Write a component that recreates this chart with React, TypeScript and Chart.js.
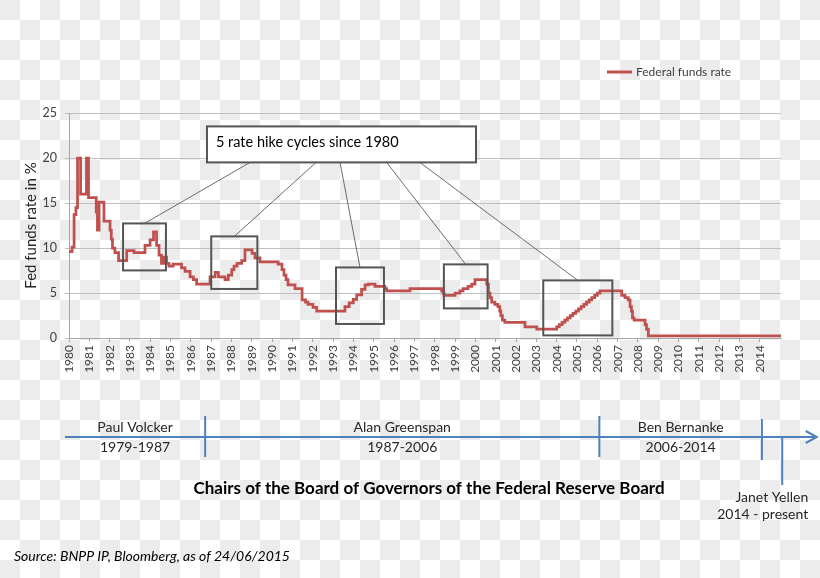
import React, { useEffect, useRef } from 'react';
import { Chart, registerables } from 'chart.js';

Chart.register(...registerables);

const FONT = 'Lato, "Open Sans", "DejaVu Sans", sans-serif';

// ---- data ----
const yearLabels = [
  '1980', '1981', '1982', '1983', '1984', '1985', '1986', '1987', '1988', '1989',
  '1990', '1991', '1992', '1993', '1994', '1995', '1996', '1997', '1998', '1999',
  '2000', '2001', '2002', '2003', '2004', '2005', '2006', '2007', '2008', '2009',
  '2010', '2011', '2012', '2013', '2014',
];
const yTickValues = [0, 5, 10, 15, 20, 25];

// change points of the rate (position on the year axis, rate in %)
const rateDates = [
  1980.0, 1980.15, 1980.25, 1980.34, 1980.42, 1980.57, 1980.86, 1980.96, 1981.34, 1981.4,
  1981.48, 1981.72, 1982.02, 1982.08, 1982.14, 1982.26, 1982.44, 1982.84, 1983.2, 1983.74,
  1983.99, 1984.16, 1984.31, 1984.43, 1984.55, 1984.68, 1984.8, 1984.92, 1985.12, 1985.54,
  1985.71, 1985.96, 1986.12, 1986.28, 1986.94, 1987.19, 1987.35, 1987.68, 1987.84, 1988.01,
  1988.12, 1988.27, 1988.5, 1988.66, 1989.01, 1989.15, 1989.4, 1990.29, 1990.48, 1990.58,
  1990.68, 1990.78, 1991.12, 1991.47, 1991.64, 1991.76, 1992.01, 1992.19, 1993.58, 1993.79,
  1993.99, 1994.16, 1994.4, 1994.57, 1994.73, 1995.06, 1995.55, 1995.63, 1996.78, 1998.34,
  1998.41, 1998.46, 1999.0, 1999.24, 1999.39, 1999.64, 1999.82, 1999.98, 2000.56, 2000.64,
  2000.72, 2000.8, 2000.96, 2001.11, 2001.2, 2001.25, 2001.33, 2001.45, 2002.44, 2003.02,
  2004.0, 2004.13, 2004.27, 2004.4, 2004.53, 2004.67, 2004.8, 2004.94, 2005.07, 2005.2,
  2005.34, 2005.47, 2005.6, 2005.73, 2005.87, 2006.0, 2006.13, 2007.2, 2007.36, 2007.52,
  2007.61, 2007.68, 2007.73, 2007.81, 2008.35, 2008.42, 2008.51, 2015.04,
];
const rateValues = [
  9.6, 10.1, 13.7, 14.5, 20, 16, 20, 15.6, 14, 12,
  15.1, 13, 12, 11, 10, 9.5, 8.6, 9.7, 9.5, 10.3,
  10.9, 11.8, 10.3, 9.2, 8.3, 9.0, 8.3, 8.0, 8.2, 7.8,
  7.4, 6.8, 6.5, 6.0, 6.8, 7.3, 6.8, 6.5, 7.0, 7.6,
  8.0, 8.3, 8.6, 9.8, 9.4, 8.9, 8.45, 8.2, 7.6, 7.0,
  6.5, 5.9, 5.5, 4.25, 4.0, 3.75, 3.4, 3.0, 3.5, 3.9,
  4.3, 4.8, 5.4, 5.9, 6.0, 5.75, 5.5, 5.25, 5.5, 5.25,
  5.0, 4.75, 5.0, 5.25, 5.5, 5.75, 6.0, 6.5, 6.0, 5.0,
  4.5, 4.0, 3.75, 3.5, 3.0, 2.5, 2.0, 1.75, 1.25, 1.0,
  1.25, 1.5, 1.75, 2.0, 2.25, 2.5, 2.75, 3.0, 3.25, 3.5,
  3.75, 4.0, 4.25, 4.5, 4.75, 5.0, 5.25, 4.75, 4.5, 4.25,
  3.5, 3.0, 2.25, 2.0, 1.5, 1.0, 0.25, 0.25,
];

// highlighted hike cycles (year-axis span, rate span)
const cycleStarts = [1982.66, 1987.0, 1993.14, 1998.45, 2003.34];
const cycleEnds = [1984.77, 1989.27, 1995.5, 2000.6, 2006.74];
const cycleHighs = [12.73, 11.29, 7.84, 8.18, 6.4];
const cycleLows = [7.51, 5.45, 1.56, 3.29, 0.29];
const calloutAnchors = [1988.91, 1992.16, 1993.34, 1995.63, 1997.27];
const calloutText = '5 rate hike cycles since 1980';
const calloutSpanX = [1986.79, 2000.03];
const calloutSpanY = [19.51, 23.51];

// Fed chairs timeline
const chairNames = ['Paul Volcker', 'Alan Greenspan', 'Ben Bernanke', 'Janet Yellen'];
const chairTerms = ['1979-1987', '1987-2006', '2006-2014', '2014 - present'];
const chairBounds = [1979.8, 1986.7, 2006.1, 2014.1, 2015.1];
const timelineEnd = 2016.8;

const seriesLabel = 'Federal funds rate';
const timelineTitle = 'Chairs of the Board of Governors of the Federal Reserve Board';
const sourceText = 'Source: BNPP IP, Bloomberg, as of 24/06/2015';

const RED = '#c0504d';
const BLUE = '#4f81bd';

const decorPlugin = {
  id: 'decor',
  afterDatasetsDraw(chart: any) {
    const { ctx, chartArea } = chart;
    const x = chart.scales.x;
    const y = chart.scales.y;
    const px = (v: number) => x.getPixelForValue(v);
    const py = (v: number) => y.getPixelForValue(v);
    ctx.save();

    // connector lines
    ctx.strokeStyle = '#6b6b6b';
    ctx.lineWidth = 1;
    cycleStarts.forEach((s, i) => {
      const tx = (px(s) + px(cycleEnds[i])) / 2;
      ctx.beginPath();
      ctx.moveTo(px(calloutAnchors[i]), py(calloutSpanY[0]));
      ctx.lineTo(tx, py(cycleHighs[i]));
      ctx.stroke();
    });

    // cycle boxes
    ctx.strokeStyle = '#555555';
    ctx.lineWidth = 2;
    cycleStarts.forEach((s, i) => {
      const x0 = px(s), x1 = px(cycleEnds[i]);
      const y0 = py(cycleHighs[i]), y1 = py(cycleLows[i]);
      ctx.strokeRect(x0, y0, x1 - x0, y1 - y0);
    });

    // callout box
    const cx0 = px(calloutSpanX[0]), cx1 = px(calloutSpanX[1]);
    const cy0 = py(calloutSpanY[1]), cy1 = py(calloutSpanY[0]);
    ctx.fillStyle = '#ffffff';
    ctx.fillRect(cx0, cy0, cx1 - cx0, cy1 - cy0);
    ctx.strokeRect(cx0, cy0, cx1 - cx0, cy1 - cy0);
    ctx.fillStyle = '#000000';
    ctx.font = `14.5px ${FONT}`;
    ctx.textAlign = 'left';
    ctx.textBaseline = 'middle';
    ctx.fillText(calloutText, cx0 + 9, (cy0 + cy1) / 2 - 2);

    // legend
    const ly = chartArea.top - 41;
    ctx.strokeStyle = RED;
    ctx.lineWidth = 3;
    ctx.beginPath();
    ctx.moveTo(chartArea.right - 174, ly);
    ctx.lineTo(chartArea.right - 149, ly);
    ctx.stroke();
    ctx.fillStyle = '#404040';
    ctx.font = `12px ${FONT}`;
    ctx.fillText(seriesLabel, chartArea.right - 145, ly);

    // timeline
    const tb = chartArea.bottom;
    const axisY = tb + 99;
    ctx.strokeStyle = BLUE;
    ctx.lineWidth = 2;
    ctx.beginPath();
    ctx.moveTo(px(chairBounds[0]), axisY);
    ctx.lineTo(px(timelineEnd) - 1, axisY);
    ctx.stroke();
    // arrow head
    const tip = px(timelineEnd);
    ctx.beginPath();
    ctx.moveTo(tip - 11, axisY - 6);
    ctx.lineTo(tip, axisY);
    ctx.lineTo(tip - 11, axisY + 6);
    ctx.stroke();
    // boundaries
    for (let i = 1; i <= 3; i++) {
      const bx = px(chairBounds[i]);
      const off = i === 3 ? 3 : 0;
      ctx.beginPath();
      ctx.moveTo(bx, axisY - 21 + off);
      ctx.lineTo(bx, axisY + 20 + off);
      ctx.stroke();
    }
    const yx = px(chairBounds[4]);
    ctx.beginPath();
    ctx.moveTo(yx, axisY);
    ctx.lineTo(yx, axisY + 48);
    ctx.stroke();

    ctx.fillStyle = '#262626';
    ctx.font = `14px ${FONT}`;
    ctx.textAlign = 'center';
    ctx.textBaseline = 'middle';
    for (let i = 0; i < 3; i++) {
      const mid = (px(chairBounds[i]) + px(chairBounds[i + 1])) / 2;
      ctx.fillText(chairNames[i], mid, axisY - 10);
      ctx.fillText(chairTerms[i], mid, axisY + 10);
    }
    ctx.textAlign = 'right';
    ctx.fillText(chairNames[3], yx + 26, axisY + 60);
    ctx.fillText(chairTerms[3], yx + 26, axisY + 77);

    // title
    ctx.fillStyle = '#000000';
    ctx.font = `bold 17px ${FONT}`;
    ctx.textAlign = 'center';
    ctx.fillText(timelineTitle, (chartArea.left + chartArea.right) / 2 + 4, axisY + 52);

    // source
    ctx.font = `italic 14px ${FONT}`;
    ctx.textAlign = 'left';
    ctx.fillText(sourceText, 14, axisY + 119);

    ctx.restore();
  },
};

export default function App() {
  const ref = useRef<HTMLCanvasElement>(null);
  useEffect(() => {
    const chart = new Chart(ref.current as HTMLCanvasElement, {
      type: 'line',
      data: {
        datasets: [
          {
            label: seriesLabel,
            data: rateDates.map((d, i) => ({ x: d, y: rateValues[i] })),
            borderColor: RED,
            backgroundColor: RED,
            borderWidth: 2.75,
            pointRadius: 0,
            stepped: 'before',
            fill: false,
          },
        ],
      },
      options: {
        responsive: false,
        animation: false,
        devicePixelRatio: 1,
        layout: { padding: { left: 0, top: 113, right: 39, bottom: 200 } },
        plugins: { legend: { display: false }, tooltip: { enabled: false } },
        scales: {
          x: {
            type: 'linear',
            min: 1980,
            max: 2015.04,
            afterBuildTicks: (s: any) => {
              s.ticks = yearLabels.map((v) => ({ value: Number(v) }));
            },
            afterFit: (s: any) => {
              s.height = 40;
            },
            grid: { drawOnChartArea: false, tickLength: 4, color: '#a6a6a6' },
            border: { color: '#a6a6a6' },
            ticks: {
              minRotation: 90,
              maxRotation: 90,
              autoSkip: false,
              padding: 3,
              color: '#404040',
              font: { family: FONT, size: 12 },
              callback: (v: any) => String(v),
            },
          },
          y: {
            min: 0,
            max: 25,
            afterBuildTicks: (s: any) => {
              s.ticks = yTickValues.map((v) => ({ value: v }));
            },
            afterFit: (s: any) => {
              s.width = 69;
            },
            grid: { color: '#bfbfbf', tickLength: 4 },
            border: { color: '#a6a6a6' },
            ticks: {
              padding: 8,
              color: '#404040',
              font: { family: FONT, size: 12.5 },
            },
            title: {
              display: true,
              text: 'Fed funds rate in %',
              color: '#262626',
              font: { family: FONT, size: 15 },
              padding: { top: 22, bottom: 0 },
            },
          },
        },
      },
      plugins: [decorPlugin],
    });
    return () => chart.destroy();
  }, []);

  return (
    <div
      style={{
        position: 'fixed',
        left: 0,
        top: 0,
        width: 820,
        height: 578,
        background: 'repeating-conic-gradient(#ffffff 0% 25%, #ececec 0% 50%) 0 0 / 40px 40px',
      }}
    >
      <canvas ref={ref} width={820} height={578} style={{ display: 'block', width: 820, height: 578 }} />
    </div>
  );
}
